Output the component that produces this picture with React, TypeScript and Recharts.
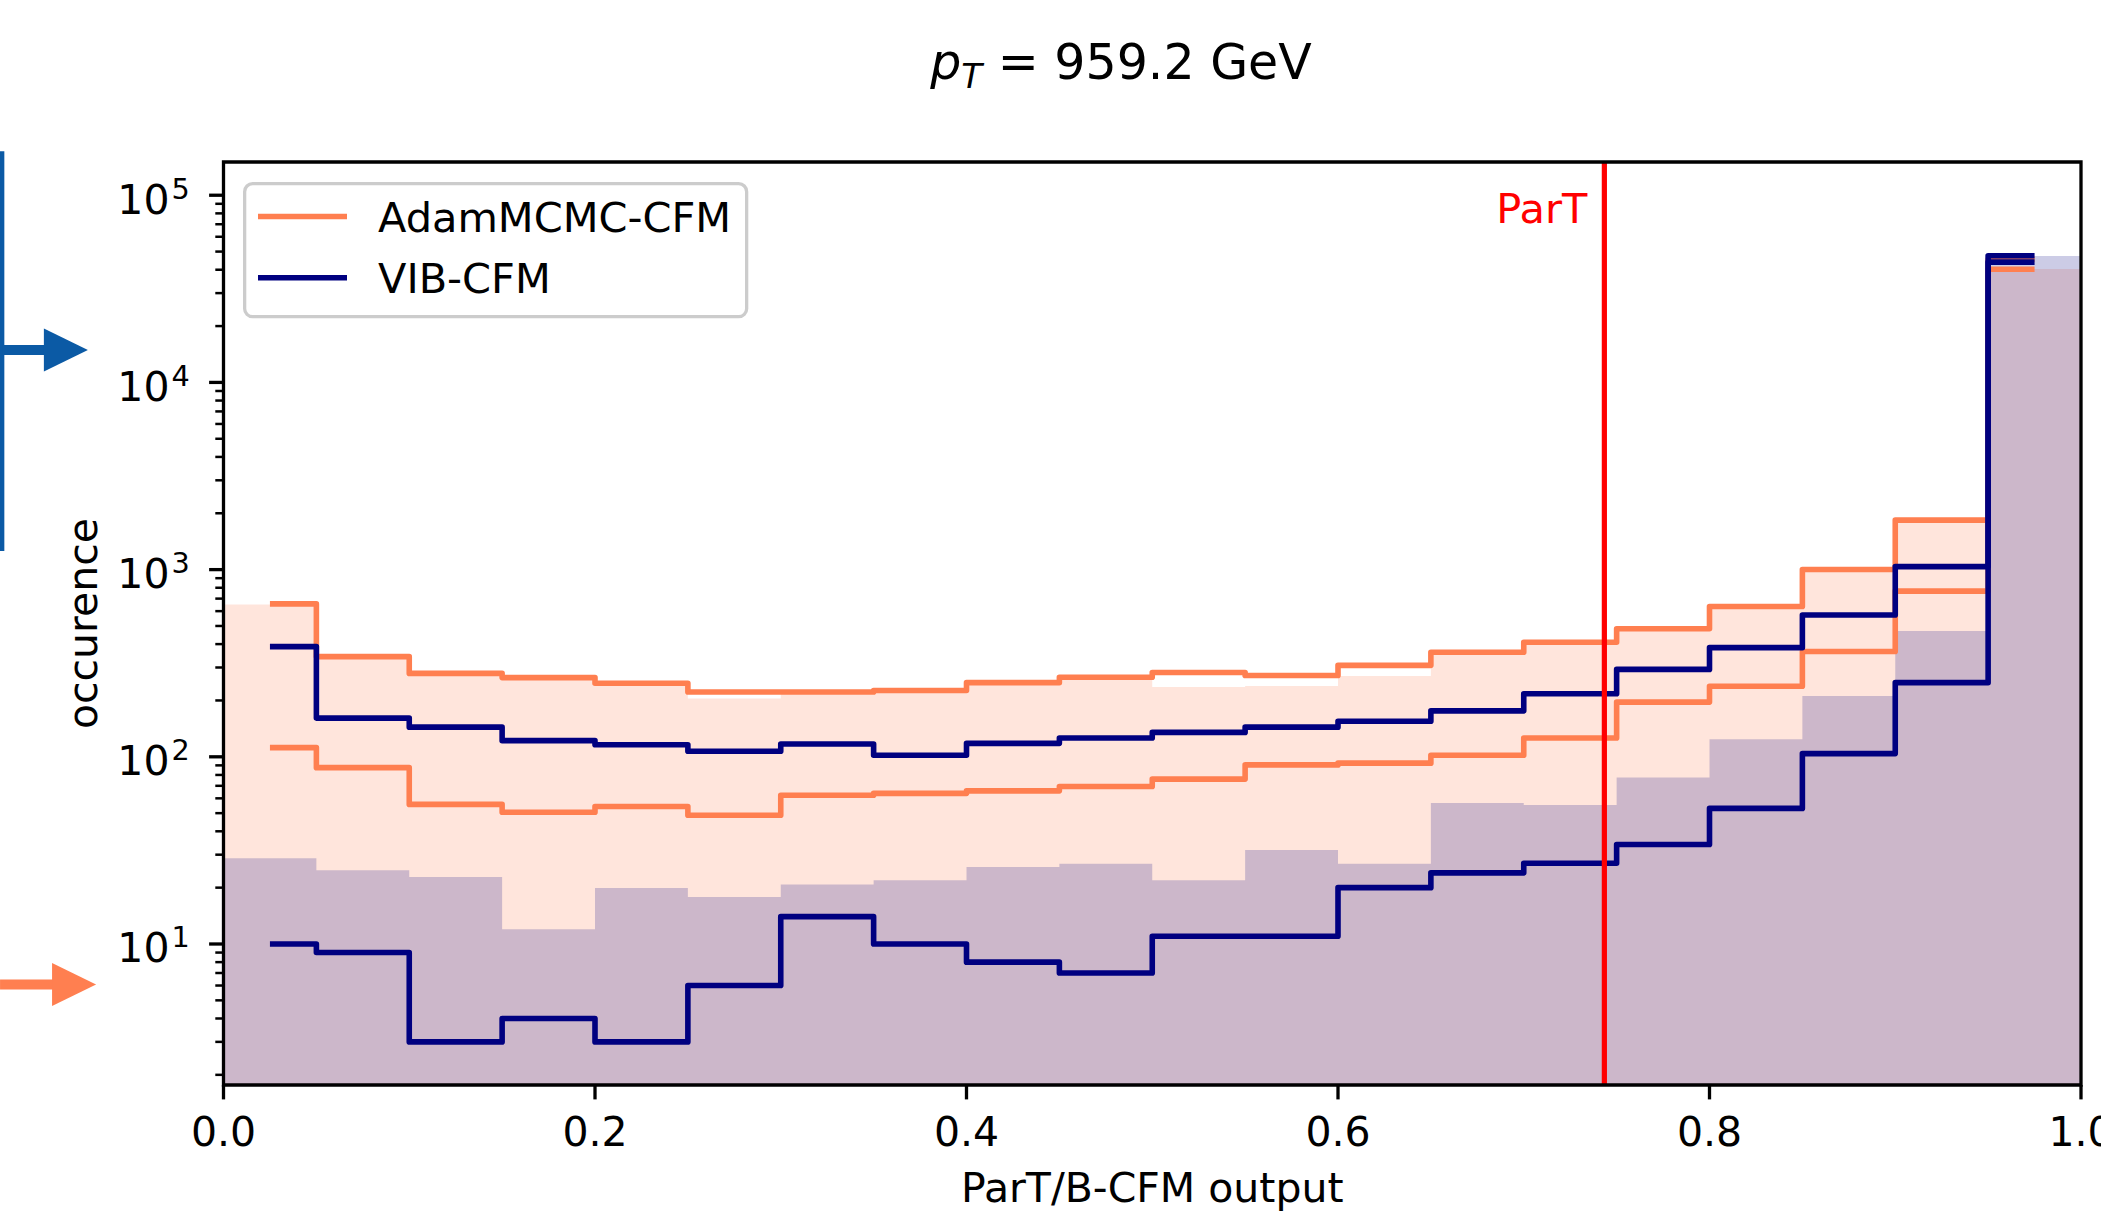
import React from 'react';
import {
  ComposedChart,
  Area,
  Line,
  XAxis,
  YAxis,
  ReferenceLine,
  ReferenceArea,
  Legend,
  Label,
  Customized,
} from 'recharts';

const FONT = '"DejaVu Sans", "Liberation Sans", sans-serif';
const CORAL = '#ff7f50';
const NAVY = '#000080';
const ARROW_BLUE = '#0b5aa5';

// ---------- data ----------
const binEdges = [0, 0.05, 0.1, 0.15, 0.2, 0.25, 0.3, 0.35, 0.4, 0.45, 0.5, 0.55, 0.6, 0.65, 0.7, 0.75, 0.8, 0.85, 0.9, 0.95, 1.0];
const binCenters = [0.025, 0.075, 0.125, 0.175, 0.225, 0.275, 0.325, 0.375, 0.425, 0.475, 0.525, 0.575, 0.625, 0.675, 0.725, 0.775, 0.825, 0.875, 0.925, 0.975];

// filled histograms (alpha 0.2)
const adamFill = [652, 340, 276, 262, 245, 205, 220, 222, 246, 263, 236, 239, 270, 358, 405, 478, 630, 995, 1830, 40400];
const vibFill = [28.7, 24.8, 22.8, 12.0, 19.9, 17.8, 20.8, 21.9, 25.8, 26.8, 21.9, 31.8, 26.8, 56.6, 55.2, 77.6, 124, 211, 470, 47300];

// step lines (band limits)
const adamUpper = [656, 343, 279, 265, 247, 222, 222, 226, 249, 266, 282, 272, 308, 362, 409, 483, 635, 1002, 1838, 45500];
const adamLower = [112, 87.5, 55.7, 50.6, 54.3, 48.7, 62.3, 63.8, 65.8, 69.4, 76, 90.5, 92.5, 102, 126, 196, 238, 365, 768, 40200];
const vibUpper = [388, 161, 144, 122, 116, 107, 117, 102, 118, 126, 135, 144, 155, 176, 217, 293, 383, 572, 1038, 47500];
const vibLower = [10, 9, 3, 4, 3, 6, 14, 10, 8, 7, 11, 11, 20, 24, 27, 34, 53, 104, 249, 43900];

const xTicks = [0, 0.2, 0.4, 0.6, 0.8, 1.0];
const yMajorTicks = [10, 100, 1000, 10000, 100000];
const yMinorTicks = [
  2, 3, 4, 5, 6, 7, 8, 9,
  20, 30, 40, 50, 60, 70, 80, 90,
  200, 300, 400, 500, 600, 700, 800, 900,
  2000, 3000, 4000, 5000, 6000, 7000, 8000, 9000,
  20000, 30000, 40000, 50000, 60000, 70000, 80000, 90000,
];
const yDomain = [1.765, 150500];
const xDomain = [0, 1];
const partThreshold = 0.7434;

const titleText = '959.2 GeV';
const legendItems = [
  { name: 'AdamMCMC-CFM', color: CORAL },
  { name: 'VIB-CFM', color: NAVY },
];

// annotation arrows drawn left of the axes (data coordinates)
const bracketSegment = [{ x: -0.1192, y: 172000 }, { x: -0.1192, y: 1256 }];
const blueArrowSegment = [{ x: -0.1192, y: 14900 }, { x: -0.073, y: 14900 }];
const orangeArrowSegment = [{ x: -0.1203, y: 6.08 }, { x: -0.0686, y: 6.08 }];

// ---------- tables ----------
const histTable = (vals: number[]) => {
  const rows = vals.map((v, i) => ({ x: binEdges[i], y: v }));
  rows.push({ x: binEdges[binEdges.length - 1], y: vals[vals.length - 1] });
  return rows;
};
const stepTable = (vals: number[]) => vals.map((v, i) => ({ x: binCenters[i], y: v }));

const adamFillData = histTable(adamFill);
const vibFillData = histTable(vibFill);
const adamUpperData = stepTable(adamUpper);
const adamLowerData = stepTable(adamLower);
const vibUpperData = stepTable(vibUpper);
const vibLowerData = stepTable(vibLower);

const yTicks = [...yMinorTicks, ...yMajorTicks].sort((a, b) => a - b);

// ---------- custom renderers ----------
const YTick = (props: any) => {
  const { x, y, payload } = props;
  const v = payload.value;
  const e = Math.log10(v);
  const major = Math.abs(e - Math.round(e)) < 1e-6;
  if (!major) {
    return <line x1={x - 8.2} y1={y} x2={x} y2={y} stroke="#000" strokeWidth={2.5} />;
  }
  return (
    <g>
      <line x1={x - 14.4} y1={y} x2={x} y2={y} stroke="#000" strokeWidth={3.3} />
      <text x={x - 54} y={y + 18.4} textAnchor="end" fontFamily={FONT} fontSize={41} fill="#000">10</text>
      <text x={x - 52} y={y + 3.3} textAnchor="start" fontFamily={FONT} fontSize={28.7} fill="#000">{Math.round(e)}</text>
    </g>
  );
};

const XTick = (props: any) => {
  const { x, y, payload } = props;
  return (
    <g>
      <line x1={x} y1={y} x2={x} y2={y + 14.4} stroke="#000" strokeWidth={3.3} />
      <text x={x} y={y + 60.6} textAnchor="middle" fontFamily={FONT} fontSize={41} fill="#000">
        {Number(payload.value).toFixed(1)}
      </text>
    </g>
  );
};

const makeArrow = (color: string) => (p: any) => {
  const { x1, y1, x2, y2 } = p;
  const headLen = 44;
  const half = 21.5;
  return (
    <g>
      <line x1={x1} y1={y1} x2={x2 - headLen + 1} y2={y2} stroke={color} strokeWidth={10} />
      <polygon points={`${x2},${y2} ${x2 - headLen},${y2 - half} ${x2 - headLen},${y2 + half}`} fill={color} />
    </g>
  );
};

const bracketShape = (p: any) => (
  <line x1={p.x1} y1={p.y1} x2={p.x2} y2={p.y2} stroke={ARROW_BLUE} strokeWidth={4.5} />
);

const Title = () => (
  <text x={1121} y={79} textAnchor="middle" fontFamily={FONT} fontSize={49} fill="#000">
    <tspan fontStyle="italic">p</tspan>
    <tspan fontStyle="italic" fontSize={34} dy={9}>T</tspan>
    <tspan dy={-9}>{' = ' + titleText}</tspan>
  </text>
);

const renderLegend = () => (
  <svg width={506} height={137} style={{ display: 'block', overflow: 'visible' }}>
    <rect x={1.65} y={1.65} width={502} height={133} rx={8} ry={8} fill="rgba(255,255,255,0.8)" stroke="#cccccc" strokeWidth={3.3} />
    {legendItems.map((it, i) => (
      <g key={it.name}>
        <line x1={15} y1={34.5 + i * 61.3} x2={104} y2={34.5 + i * 61.3} stroke={it.color} strokeWidth={5.5} />
        <text x={135} y={50 + i * 61.3} fontFamily={FONT} fontSize={41.5} fill="#000">{it.name}</text>
      </g>
    ))}
  </svg>
);

const XLabelContent = (props: any) => {
  const vb = props.viewBox || {};
  return (
    <text x={vb.x + vb.width / 2} y={1202} textAnchor="middle" fontFamily={FONT} fontSize={41} fill="#000">
      ParT/B-CFM output
    </text>
  );
};

const YLabelContent = (props: any) => {
  const vb = props.viewBox || {};
  const cy = vb.y + vb.height / 2;
  return (
    <text x={97} y={cy} transform={`rotate(-90, 97, ${cy})`} textAnchor="middle" fontFamily={FONT} fontSize={41} fill="#000">
      occurence
    </text>
  );
};

const PartLabel = (props: any) => {
  const vb = props.viewBox || {};
  return (
    <text x={vb.x - 17} y={vb.y + 61} textAnchor="end" fontFamily={FONT} fontSize={41.5} fill="#ff0000">
      ParT
    </text>
  );
};

const LW = 5.6;

export default function App() {
  return (
    <div style={{ position: 'absolute', left: 0, top: 0, width: 2101, height: 1211, background: '#fff' }}>
      <ComposedChart
        width={2101}
        height={1211}
        margin={{ top: 162, right: 20, bottom: 66, left: 123.5 }}
        style={{ fontFamily: FONT }}
      >
        <XAxis
          dataKey="x"
          type="number"
          domain={xDomain}
          allowDataOverflow
          ticks={xTicks}
          interval={0}
          height={60}
          axisLine={false}
          tickLine={false}
          tickSize={0}
          tickMargin={0}
          tick={<XTick />}
        >
          <Label content={<XLabelContent />} />
        </XAxis>
        <YAxis
          type="number"
          scale="log"
          domain={yDomain}
          allowDataOverflow
          ticks={yTicks}
          interval={0}
          width={100}
          axisLine={false}
          tickLine={false}
          tickSize={0}
          tickMargin={0}
          tick={<YTick />}
        >
          <Label content={<YLabelContent />} />
        </YAxis>

        <Area data={adamFillData} dataKey="y" type="stepAfter" fill={CORAL} fillOpacity={0.2} stroke="none" isAnimationActive={false} />
        <Area data={vibFillData} dataKey="y" type="stepAfter" fill={NAVY} fillOpacity={0.2} stroke="none" isAnimationActive={false} />

        <Line data={adamUpperData} dataKey="y" type="step" stroke={CORAL} strokeWidth={LW} dot={false} activeDot={false} strokeLinejoin="round" isAnimationActive={false} />
        <Line data={adamLowerData} dataKey="y" type="step" stroke={CORAL} strokeWidth={LW} dot={false} activeDot={false} strokeLinejoin="round" isAnimationActive={false} />
        <Line data={vibUpperData} dataKey="y" type="step" stroke={NAVY} strokeWidth={LW} dot={false} activeDot={false} strokeLinejoin="round" isAnimationActive={false} />
        <Line data={vibLowerData} dataKey="y" type="step" stroke={NAVY} strokeWidth={LW} dot={false} activeDot={false} strokeLinejoin="round" isAnimationActive={false} />

        <ReferenceLine x={partThreshold} stroke="#ff0000" strokeWidth={5.2} ifOverflow="visible" zIndex={900}>
          <Label content={<PartLabel />} />
        </ReferenceLine>

        <ReferenceArea
          x1={xDomain[0]}
          x2={xDomain[1]}
          y1={yDomain[0]}
          y2={yDomain[1]}
          fill="none"
          fillOpacity={0}
          stroke="#000"
          strokeWidth={3.3}
          ifOverflow="visible"
          zIndex={950}
        />

        <ReferenceLine segment={bracketSegment} ifOverflow="visible" shape={bracketShape} zIndex={950} />
        <ReferenceLine segment={blueArrowSegment} ifOverflow="visible" shape={makeArrow(ARROW_BLUE)} zIndex={950} />
        <ReferenceLine segment={orangeArrowSegment} ifOverflow="visible" shape={makeArrow(CORAL)} zIndex={950} />

        <Legend
          layout="vertical"
          align="center"
          verticalAlign="middle"
          content={renderLegend}
          wrapperStyle={{ position: 'absolute', left: 242.5, top: 181.5, width: 506, height: 137, margin: 0, padding: 0 }}
        />

        <Customized component={<Title />} />
      </ComposedChart>
    </div>
  );
}
